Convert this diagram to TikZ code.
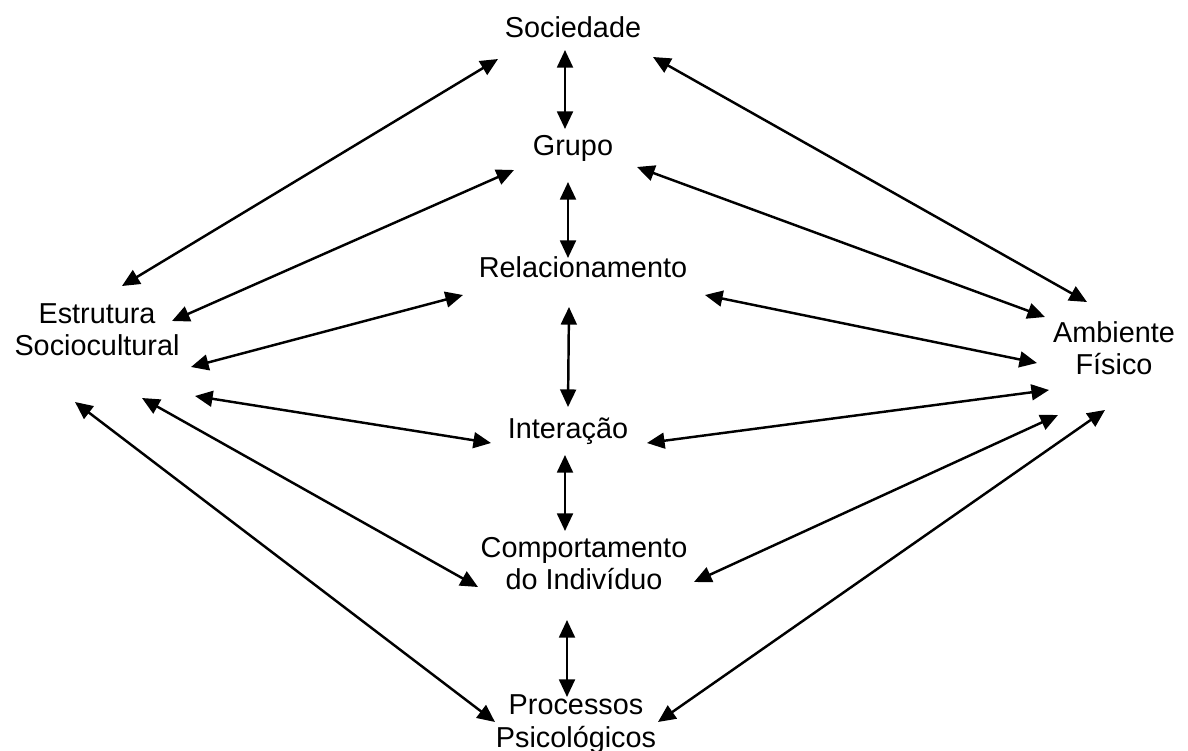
\documentclass[tikz,border=0pt]{standalone}
\usepackage{fontspec}
\setmainfont{Liberation Sans}
\usepackage{tikz}
\usetikzlibrary{arrows.meta}

\begin{document}
\begin{tikzpicture}[x=0.02cm,y=-0.02cm,inner sep=0pt]
\tikzstyle{main}=[font=\fontsize{16.4}{18.3}\selectfont, align=center]
\tikzstyle{connect}=[{Triangle[length=10pt,width=9pt]}-{Triangle[length=10pt,width=9pt]}, line width=1.4pt]
\useasboundingbox (0,0) rectangle (1188,751);
% central column
\node[main,anchor=base] (soc) at (573,37) {Sociedade};
\node[main,anchor=base] (grp) at (573,155) {Grupo};
\node[main,anchor=base] (rel) at (583,277) {Relacionamento};
\node[main,anchor=base] (int) at (568,438) {Interação};
\node[main] (comp) at (584,563.5) {Comportamento\\do Indivíduo};
\node[main] (proc) at (576,724) {Processos\\Psicológicos};
% sides
\node[main] (est) at (97,329.5) {Estrutura\\Sociocultural};
\node[main] (amb) at (1114,348.5) {Ambiente\\Físico};

\draw[connect] ([shift={(-8,13)}]soc.base) -- ([shift={(-8,-26)}]grp.base);
\draw[connect] ([shift={(-5,27)}]grp.base) -- ([shift={(-15,-19)}]rel.base);
\draw[connect] ([shift={(-14,30)}]rel.base) -- ([shift={(0,-31)}]int.base);
\draw[connect] ([shift={(-3,17)}]int.base) -- ([shift={(-19,-32.5)}]comp.center);
\draw[connect] ([shift={(-17,56.5)}]comp.center) -- ([shift={(-9,-27)}]proc.center);

\draw[connect] ([shift={(25,-43.5)}]est.center) -- ([shift={(-75,22)}]soc.base);
\draw[connect] ([shift={(75,-8.5)}]est.center) -- ([shift={(-59,15)}]grp.base);
\draw[connect] ([shift={(94,37.5)}]est.center) -- ([shift={(-120,18)}]rel.base);
\draw[connect] ([shift={(98,66.5)}]est.center) -- ([shift={(-77,5)}]int.base);
\draw[connect] ([shift={(45,68.5)}]est.center) -- ([shift={(-106,23.5)}]comp.center);
\draw[connect] ([shift={(-22,72.5)}]est.center) -- ([shift={(-81,-2)}]proc.center);

\draw[connect] ([shift={(-27,-46.5)}]amb.center) -- ([shift={(80,20)}]soc.base);
\draw[connect] ([shift={(-69,-31.5)}]amb.center) -- ([shift={(64,12)}]grp.base);
\draw[connect] ([shift={(-77,14.5)}]amb.center) -- ([shift={(122,18)}]rel.base);
\draw[connect] ([shift={(-65,41.5)}]amb.center) -- ([shift={(79,5)}]int.base);
\draw[connect] ([shift={(-56,66.5)}]amb.center) -- ([shift={(110,18.5)}]comp.center);
\draw[connect] ([shift={(-9,61.5)}]amb.center) -- ([shift={(82,-2)}]proc.center);
\end{tikzpicture}
\end{document}
